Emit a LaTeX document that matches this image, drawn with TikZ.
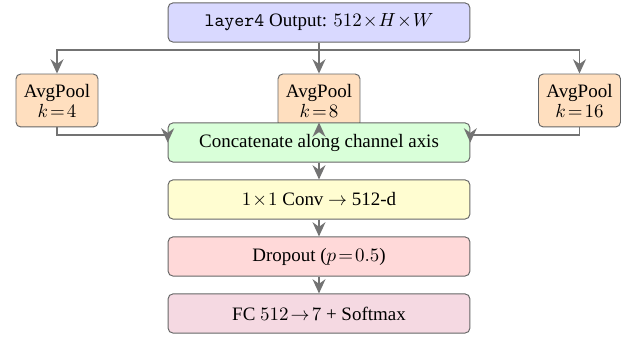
\documentclass[tikz,border=0pt]{standalone}
\usepackage{fontspec}
\setmainfont{Liberation Serif}
\usetikzlibrary{arrows.meta}
\medmuskip=1mu\relax
\thickmuskip=2mu\relax
\begin{document}
\begin{tikzpicture}[x=0.527pt,y=-0.527pt,
  box/.style={draw=black!60, line width=0.5pt, rounded corners=2.5pt, align=center,
    inner sep=2pt, font=\fontsize{10}{11.5}\selectfont},
  widebox/.style={box, minimum width=159pt, minimum height=20.6pt},
  poolbox/.style={box, fill=orange!25, minimum width=43.2pt, minimum height=27.9pt},
  arrow/.style={draw=black!55, line width=1.05pt, -{Stealth[length=7.5pt,width=6.8pt]}}]
\useasboundingbox (0,0) rectangle (636,339);
\node[widebox, fill=blue!15] (top) at (319,22.5) {\texttt{layer4} Output: $512\times H\times W$};
\node[poolbox] (pool1) at (57,100.5) {AvgPool\\[-1pt]$k=4$};
\node[poolbox] (pool2) at (319,100.5) {AvgPool\\[-1pt]$k=8$};
\node[poolbox] (pool3) at (579.5,100.5) {AvgPool\\[-1pt]$k=16$};
\node[widebox, fill=green!15] (concat) at (319,142.5) {Concatenate along channel axis};
\node[widebox, fill=yellow!18] (conv) at (319,199.5) {$1\times1$ Conv $\rightarrow$ 512-d};
\node[widebox, fill=red!15] (drop) at (319,256.5) {Dropout ($p=0.5$)};
\node[widebox, fill=purple!15] (fc) at (319,313.5) {FC $512\rightarrow7$ + Softmax};
\coordinate (split) at (319,50.5);
\coordinate (joinL) at (57,135);
\coordinate (joinR) at (579.5,135);
% top to pools
\draw[arrow] (top) -- (pool2);
\draw[arrow] (top.south) -- (split) -| (pool1);
\draw[arrow] (split) -| (pool3);
% pools to concat
\draw[arrow] (pool1.south) -- (joinL) -| (concat.west);
\draw[arrow] (pool3.south) -- (joinR) -| (concat.east);
\draw[arrow] (pool2) -- (concat);
% chain
\draw[arrow] (concat) -- (conv);
\draw[arrow] (conv) -- (drop);
\draw[arrow] (drop) -- (fc);
\end{tikzpicture}
\end{document}
